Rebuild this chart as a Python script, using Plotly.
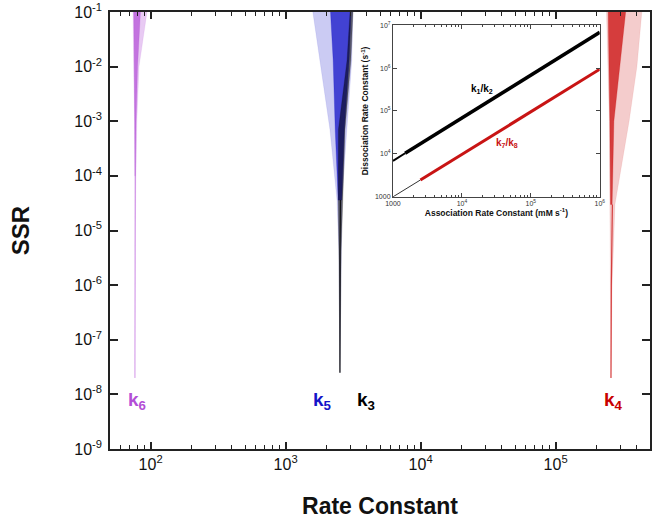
import numpy as np
import plotly.graph_objects as go

# ---------------- data ----------------
# main panel: envelopes of the SSR clouds (SSR level, low / high rate constant)
k6_ssr = [1e-1, 1e-2, 1e-3, 1e-4, 1e-5, 2e-8]
k6_lo = [74.0, 75.2, 76.0, 76.3, 76.4, 76.5]
k6_hi = [94.0, 82.0, 79.0, 77.8, 77.0, 76.5]
k6_core_ssr = [1e-1, 1e-2, 1e-3, 1e-4]
k6_core_lo = [75.0, 75.8, 76.2, 76.4]
k6_core_hi = [84.0, 80.0, 78.0, 77.2]

k5_ssr = [1e-1, 1.3e-2, 7e-4, 3.6e-5, 4.4e-6, 2.5e-8]
k5_lo = [1590, 1790, 2130, 2400, 2480, 2525]
k5_hi = [3150, 3090, 2840, 2610, 2600, 2525]
k5_core_ssr = [1e-1, 1.3e-2, 7e-4, 3.6e-5]
k5_core_lo = [2150, 2250, 2330, 2450]
k5_core_hi = [3050, 2950, 2720, 2600]

k3_ssr = [1e-1, 1.3e-2, 7e-4, 3.6e-5, 4.4e-6, 2.5e-8]
k3_lo = [3000, 2850, 2460, 2450, 2480, 2525]
k3_hi = [3150, 3040, 2750, 2650, 2580, 2525]

k4_ssr = [1e-1, 1e-2, 1e-3, 3e-5, 1e-6, 2e-8]
k4_lo = [2.38e5, 2.45e5, 2.50e5, 2.52e5, 2.55e5, 2.57e5]
k4_hi = [4.35e5, 4.00e5, 3.50e5, 2.75e5, 2.62e5, 2.57e5]
k4_core_ssr = [1e-1, 1e-2, 1e-3, 3e-5]
k4_core_lo = [2.45e5, 2.50e5, 2.52e5, 2.55e5]
k4_core_hi = [3.30e5, 3.00e5, 2.70e5, 2.62e5]

# rate-constant labels
k_labels = ["k<sub>6</sub>", "k<sub>5</sub>", "k<sub>3</sub>", "k<sub>4</sub>"]
k_label_x = [79, 1890, 3930, 2.69e5]
k_colors = ["#b34fd6", "#1414c8", "#000000", "#c80000"]

# main ticks
x_tickvals = [1e2, 1e3, 1e4, 1e5]
x_ticktext = ["10<sup>2</sup>", "10<sup>3</sup>", "10<sup>4</sup>", "10<sup>5</sup>"]
y_tickvals = [1e-9, 1e-8, 1e-7, 1e-6, 1e-5, 1e-4, 1e-3, 1e-2, 1e-1]
y_ticktext = ["10<sup>-9</sup>", "10<sup>-8</sup>", "10<sup>-7</sup>", "10<sup>-6</sup>",
              "10<sup>-5</sup>", "10<sup>-4</sup>", "10<sup>-3</sup>", "10<sup>-2</sup>",
              "10<sup>-1</sup>"]

# inset: dissociation vs association rate constants
assoc_k1 = [1000, 1500]
diss_k2 = [6900, 10350]
assoc_k1_thick = [1500, 1e6]
diss_k2_thick = [10350, 6.8e6]
assoc_k7 = [1000, 2500]
diss_k8 = [1000, 2470]
assoc_k7_thick = [2500, 1e6]
diss_k8_thick = [2470, 9.4e5]

in_x_tickvals = [1e3, 1e4, 1e5, 1e6]
in_x_ticktext = ["1000", "10<sup>4</sup>", "10<sup>5</sup>", "10<sup>6</sup>"]
in_y_tickvals = [1e3, 1e4, 1e5, 1e6, 1e7]
in_y_ticktext = ["1000", "10<sup>4</sup>", "10<sup>5</sup>", "10<sup>6</sup>", "10<sup>7</sup>"]

FONT = "Arial, Liberation Sans, sans-serif"

main_minor = [d * 10 ** e for e in range(1, 6) for d in range(2, 10) if 50 < d * 10 ** e < 5e5]
inset_minor = [d * 10 ** e for e in range(3, 6) for d in range(2, 10)]


def env(ssr, lo, hi):
    return list(lo) + list(hi)[::-1], list(ssr) + list(ssr)[::-1]


def rgba(hexc, a):
    h = hexc.lstrip("#")
    r, g, b = int(h[0:2], 16), int(h[2:4], 16), int(h[4:6], 16)
    return f"rgba({r},{g},{b},{a})"


fig = go.Figure()


def cloud(ssr, lo, hi, color, alpha):
    x, y = env(ssr, lo, hi)
    fig.add_trace(go.Scatter(x=x, y=y, mode="lines", fill="toself",
                             fillcolor=rgba(color, alpha),
                             line=dict(color=rgba(color, alpha * 0.6), width=0.6),
                             hoverinfo="skip", showlegend=False))


def stem(ssr, lo, hi, color, alpha, width):
    xs = [(a * b) ** 0.5 for a, b in zip(lo, hi)]
    fig.add_trace(go.Scatter(x=xs, y=ssr, mode="lines",
                             line=dict(color=rgba(color, alpha), width=width),
                             hoverinfo="skip", showlegend=False))


violet, blue, black, red = k_colors

# k6
cloud(k6_ssr, k6_lo, k6_hi, violet, 0.3)
cloud(k6_core_ssr, k6_core_lo, k6_core_hi, violet, 0.7)
stem(k6_ssr[3:], k6_lo[3:], k6_hi[3:], violet, 0.45, 1)
# k5 / k3
cloud(k5_ssr, k5_lo, k5_hi, blue, 0.22)
cloud(k5_core_ssr, k5_core_lo, k5_core_hi, blue, 0.75)
cloud(k3_ssr, k3_lo, k3_hi, black, 0.55)
stem(k3_ssr[3:], k3_lo[3:], k3_hi[3:], black, 0.8, 1.2)
# k4
cloud(k4_ssr, k4_lo, k4_hi, red, 0.2)
cloud(k4_core_ssr, k4_core_lo, k4_core_hi, red, 0.7)
stem(k4_ssr[3:], k4_lo[3:], k4_hi[3:], red, 0.7, 1.2)

# inset lines
fig.add_trace(go.Scatter(x=assoc_k7, y=diss_k8, xaxis="x2", yaxis="y2", mode="lines",
                         line=dict(color="#333333", width=1), showlegend=False, hoverinfo="skip"))
fig.add_trace(go.Scatter(x=assoc_k7_thick, y=diss_k8_thick, xaxis="x2", yaxis="y2", mode="lines",
                         line=dict(color="#c81414", width=3), showlegend=False, hoverinfo="skip"))
fig.add_trace(go.Scatter(x=assoc_k1, y=diss_k2, xaxis="x2", yaxis="y2", mode="lines",
                         line=dict(color="#000000", width=2), showlegend=False, hoverinfo="skip"))
fig.add_trace(go.Scatter(x=assoc_k1_thick, y=diss_k2_thick, xaxis="x2", yaxis="y2", mode="lines",
                         line=dict(color="#000000", width=3.5), showlegend=False, hoverinfo="skip"))

annotations = []
for lab, xv, col in zip(k_labels, k_label_x, k_colors):
    annotations.append(dict(x=np.log10(xv), y=-8.12, xref="x", yref="y", text=f"<b>{lab}</b>",
                            showarrow=False, font=dict(family=FONT, size=19, color=col),
                            xanchor="center", yanchor="middle"))
annotations.append(dict(x=4.29, y=5.51, xref="x2", yref="y2",
                        text="<b>k<sub>1</sub>/k<sub>2</sub></b>", showarrow=False,
                        font=dict(family=FONT, size=10, color="#000000")))
annotations.append(dict(x=4.65, y=4.25, xref="x2", yref="y2",
                        text="<b>k<sub>7</sub>/k<sub>8</sub></b>", showarrow=False,
                        font=dict(family=FONT, size=10, color="#c81414")))

axis_common = dict(showgrid=False, zeroline=False, showline=True, linecolor="#222222",
                   linewidth=1.6, mirror="ticks", ticks="inside", tickcolor="#222222",
                   automargin=False, ticklabeloverflow="allow",
                   tickfont=dict(family=FONT, size=16, color="#111111"))

fig.update_layout(
    width=653, height=522,
    margin=dict(l=110, r=3, t=12, b=73),
    paper_bgcolor="white", plot_bgcolor="white",
    showlegend=False,
    annotations=annotations,
    xaxis=dict(axis_common, type="log", range=[np.log10(50), np.log10(5e5)],
               tickvals=x_tickvals, ticktext=x_ticktext, ticklen=7, tickwidth=1.5,
               minor=dict(ticks="inside", ticklen=4, tickwidth=1, tickcolor="#222222",
                          tickvals=main_minor, showgrid=False),
               title=dict(text="<b>Rate Constant</b>", font=dict(family=FONT, size=23, color="#111111"),
                          standoff=26)),
    yaxis=dict(axis_common, type="log", range=[-9, -1],
               tickvals=y_tickvals, ticktext=y_ticktext, ticklen=8, tickwidth=1.5,
               ticklabelstandoff=3,
               title=dict(text="<b>SSR</b>", font=dict(family=FONT, size=24, color="#111111"),
                          standoff=38)),
    xaxis2=dict(domain=[0.524, 0.907], anchor="y2", type="log", range=[3, 6],
                showgrid=False, zeroline=False, showline=True, linecolor="#444444", linewidth=1,
                mirror="ticks", ticks="inside", ticklen=4, tickcolor="#444444",
                tickvals=in_x_tickvals, ticktext=in_x_ticktext, automargin=False,
                tickfont=dict(family=FONT, size=7, color="#333333"),
                minor=dict(ticks="inside", ticklen=2, tickcolor="#444444",
                           tickvals=inset_minor, showgrid=False),
                title=dict(text="<b>Association Rate Constant (mM s<sup>-1</sup>)</b>",
                           font=dict(family=FONT, size=8.5, color="#111111"), standoff=2)),
    yaxis2=dict(domain=[0.577, 0.97], anchor="x2", type="log", range=[3, 7],
                showgrid=False, zeroline=False, showline=True, linecolor="#444444", linewidth=1,
                mirror="ticks", ticks="inside", ticklen=4, tickcolor="#444444",
                tickvals=in_y_tickvals, ticktext=in_y_ticktext, automargin=False,
                tickfont=dict(family=FONT, size=7, color="#333333"),
                title=dict(text="<b>Dissociation Rate Constant (s<sup>-1</sup>)</b>",
                           font=dict(family=FONT, size=8.5, color="#111111"), standoff=4)),
)

# remove the default page margin so the figure sits at the window's top-left corner
fig.write_html("out.html", config={"displayModeBar": False},
               post_script="document.body.style.margin='0';document.body.style.overflow='hidden';")
